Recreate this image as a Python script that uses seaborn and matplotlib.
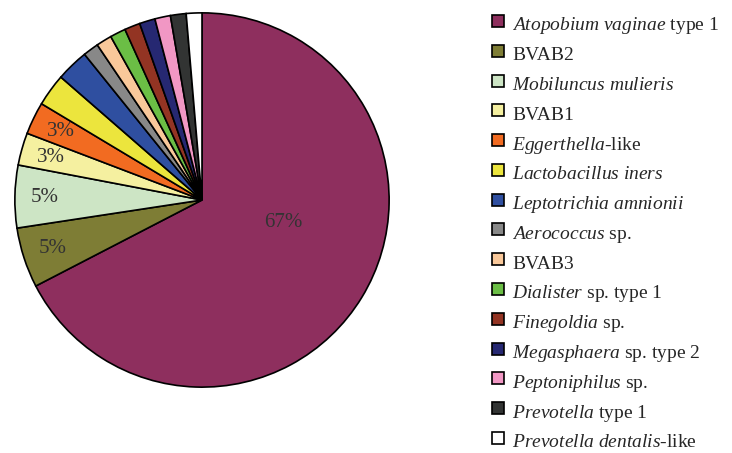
import numpy as np
import matplotlib
matplotlib.use("Agg")
import matplotlib.pyplot as plt
from matplotlib.lines import Line2D
import seaborn as sns

# pie data (percent of sequences)
taxa = [
    r"$\mathit{Atopobium\ vaginae}$ type 1",
    "BVAB2",
    r"$\mathit{Mobiluncus\ mulieris}$",
    "BVAB1",
    r"$\mathit{Eggerthella}$-like",
    r"$\mathit{Lactobacillus\ iners}$",
    r"$\mathit{Leptotrichia\ amnionii}$",
    r"$\mathit{Aerococcus}$ sp.",
    "BVAB3",
    r"$\mathit{Dialister}$ sp. type 1",
    r"$\mathit{Finegoldia}$ sp.",
    r"$\mathit{Megasphaera}$ sp. type 2",
    r"$\mathit{Peptoniphilus}$ sp.",
    r"$\mathit{Prevotella}$ type 1",
    r"$\mathit{Prevotella\ dentalis}$-like",
]
pct = [67.4, 5.2, 5.4, 2.8, 2.8, 2.8, 2.8, 1.35, 1.35, 1.35, 1.35, 1.35, 1.35, 1.35, 1.35]
colors = ["#8e2f5e", "#7e7d35", "#cde5c5", "#f5f0a0", "#f26b21",
          "#ece53d", "#2f4fa0", "#888888", "#f9c89a", "#6bbe45",
          "#933423", "#262872", "#f197c4", "#323433", "#ffffff"]
n_labeled = 5  # only the first slices carry a % label

sns.set_theme(style="white")
plt.rcParams['font.family'] = ['Liberation Serif', 'DejaVu Serif']
plt.rcParams['mathtext.fontset'] = 'custom'
plt.rcParams['mathtext.rm'] = 'Liberation Serif'
plt.rcParams['mathtext.it'] = 'Liberation Serif:italic'

fig = plt.figure(figsize=(7.32, 4.53), dpi=100)
ax = fig.add_axes([13 / 732, 64 / 453, 378 / 732, 378 / 453])

pal = sns.color_palette(colors)
wedges, _, autotexts = ax.pie(
    pct, colors=pal, startangle=90, counterclock=False,
    autopct="%.0f%%", pctdistance=0.84,
    wedgeprops=dict(edgecolor="black", linewidth=1.2),
    textprops=dict(fontsize=15, color="#333333"))

for i, t in enumerate(autotexts):
    if i >= n_labeled:
        t.set_text("")
# big slice label sits nearer the centre
x, y = autotexts[0].get_position()
autotexts[0].set_position((x * 0.607, y * 0.272))

ax.set_xlim(-1.01, 1.01)
ax.set_ylim(-1.01, 1.01)
ax.set_aspect("equal")

# square legend keys, same height for every row
keys = [Line2D([], [], linestyle="none", marker="s", markersize=8,
               markerfacecolor=c, markeredgecolor="black", markeredgewidth=1.2)
        for c in pal]
fig.legend(keys, taxa, loc="upper left", bbox_to_anchor=(490.7 / 732, 1 - 11.5 / 453),
           frameon=False, fontsize=14, handlelength=0.8, handleheight=1.61,
           handletextpad=0.3, labelspacing=0.24, borderpad=0, borderaxespad=0)

fig.savefig("out.png", dpi=100)
